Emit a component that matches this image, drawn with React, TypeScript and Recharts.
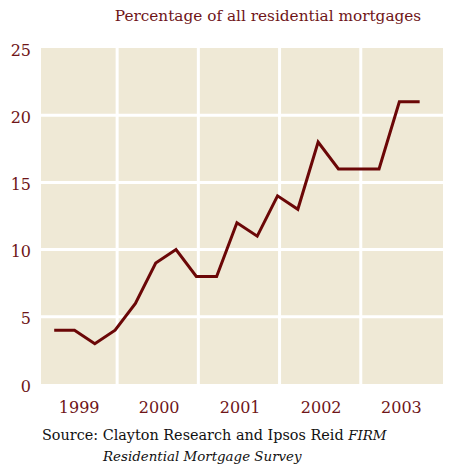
import { LineChart, Line, XAxis, YAxis, ReferenceLine, ReferenceArea } from 'recharts'

// quarterly share, 1999 Q1 .. 2003 Q3
const quarters = [0, 1, 2, 3, 4, 5, 6, 7, 8, 9, 10, 11, 12, 13, 14, 15, 16, 17, 18]
const shares = [4, 4, 3, 4, 6, 9, 10, 8, 8, 12, 11, 14, 13, 18, 16, 16, 16, 21, 21]
const years = ['1999', '2000', '2001', '2002', '2003']
const yearTicks = [1.23, 5.17, 9.16, 13.15, 17.1]
const yearBreaks = [3.1, 7.1, 11.1, 15.1]
const yTicks = [0, 5, 10, 15, 20, 25]
const yGrid = [5, 10, 15, 20]

const data = quarters.map((q, i) => ({ q, share: shares[i] }))

const RED = '#6f1518'
const LINE = '#6b0707'
const BG = '#efe9d6'
const FONT = '"DejaVu Serif", serif'

export default function App() {
  const tick = { fill: RED, fontSize: 16, fontFamily: FONT }
  return (
    <div style={{ position: 'absolute', left: 0, top: 0, width: 474, height: 468, background: '#fff', fontFamily: FONT }}>
      <div style={{ position: 'absolute', left: 0, width: 474, top: 7, textAlign: 'center', paddingLeft: 62, boxSizing: 'border-box', color: RED, fontSize: 15.3 }}>
        Percentage of all residential mortgages
      </div>
      <LineChart width={474} height={420} data={data} margin={{ top: 48, right: 0, left: 0, bottom: 0 }}>
        <XAxis
          dataKey="q" type="number" domain={[-0.65, 19.15]} allowDataOverflow
          ticks={yearTicks} tickFormatter={(v, i) => years[i]}
          axisLine={false} tickLine={false} tickSize={0} tickMargin={18} height={36}
          tick={tick} interval={0}
        />
        <YAxis
          yAxisId="l" domain={[0, 25]} ticks={yTicks} axisLine={false} tickLine={false}
          tickSize={0} tickMargin={10} width={41} tick={{ ...tick, dy: 2 }}
        />
        <YAxis
          yAxisId="r" orientation="right" domain={[0, 25]} ticks={yTicks} axisLine={false}
          tickLine={false} tickSize={0} tickMargin={10} width={31} tick={{ ...tick, dy: 2, textAnchor: 'start' }}
        />
        <ReferenceArea yAxisId="l" x1={-0.65} x2={19.15} y1={0} y2={25} fill={BG} fillOpacity={1} stroke="none" />
        {yGrid.map((y) => (
          <ReferenceLine key={'h' + y} yAxisId="l" y={y} stroke="#fff" strokeWidth={3} />
        ))}
        {yearBreaks.map((x) => (
          <ReferenceLine key={'v' + x} yAxisId="l" x={x} stroke="#fff" strokeWidth={3} />
        ))}
        <Line
          yAxisId="l" type="linear" dataKey="share" stroke={LINE} strokeWidth={3}
          dot={false} isAnimationActive={false}
        />
      </LineChart>
      <div style={{ position: 'absolute', left: 42, top: 425, fontSize: 14.4, color: '#111', lineHeight: '21px' }}>
        Source: Clayton Research and Ipsos Reid <i style={{ fontSize: 13.4 }}>FIRM</i>
        <br />
        <span style={{ paddingLeft: 61 }}><i style={{ fontSize: 13.4 }}>Residential Mortgage Survey</i></span>
      </div>
    </div>
  )
}
